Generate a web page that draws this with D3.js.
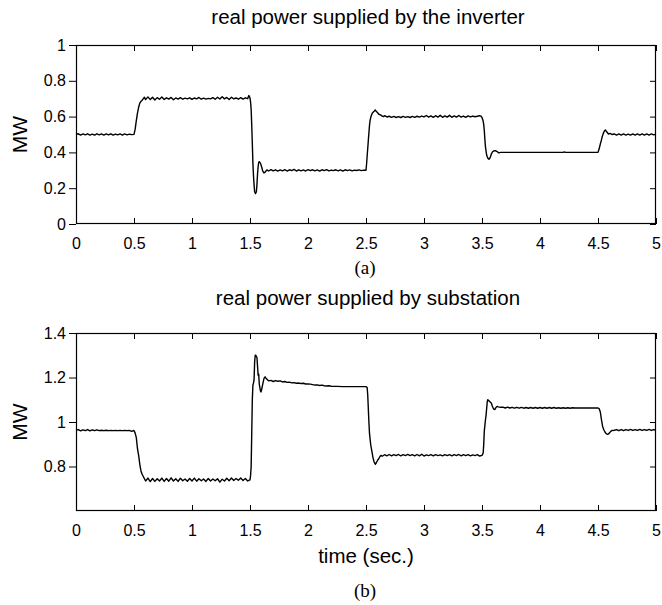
<!DOCTYPE html>
<html>
<head>
<meta charset="utf-8">
<script src="https://cdn.jsdelivr.net/npm/d3@7"></script>
<style>
  html, body { margin: 0; padding: 0; background: #fff; }
  svg text { font-family: "Liberation Sans", Arial, Helvetica, sans-serif; fill: #000; }
  svg text.cap { font-family: "Liberation Serif", "Times New Roman", serif; }
</style>
</head>
<body>
<svg id="chart" width="662" height="605"></svg>
<script>
// ---------- data ----------
const xTicks = [0, 0.5, 1, 1.5, 2, 2.5, 3, 3.5, 4, 4.5, 5];
const xTickLabels = ["0", "0.5", "1", "1.5", "2", "2.5", "3", "3.5", "4", "4.5", "5"];
const yTicksInverter = [0, 0.2, 0.4, 0.6, 0.8, 1];
const yTickLabelsInverter = ["0", "0.2", "0.4", "0.6", "0.8", "1"];
const yTicksSubstation = [0.8, 1, 1.2, 1.4];
const yTickLabelsSubstation = ["0.8", "1", "1.2", "1.4"];

const titleInverter = "real power supplied by the inverter";
const titleSubstation = "real power supplied by substation";

// real power supplied by the inverter [time (s), MW]
const inverterData = [
  [0,0.500],[0.02,0.504],[0.04,0.497],[0.06,0.503],[0.08,0.498],[0.10,0.504],[0.12,0.497],[0.14,0.502],[0.16,0.497],[0.18,0.504],
  [0.20,0.498],[0.22,0.503],[0.24,0.497],[0.26,0.503],[0.28,0.498],[0.30,0.504],[0.32,0.497],[0.34,0.502],[0.36,0.498],[0.38,0.503],
  [0.40,0.497],[0.42,0.503],[0.44,0.498],[0.46,0.502],[0.48,0.499],[0.50,0.501],
  [0.51,0.53],[0.52,0.578],[0.53,0.62],[0.54,0.652],[0.55,0.675],[0.56,0.685],[0.57,0.69],[0.58,0.70],[0.59,0.708],
  [0.60,0.695],[0.62,0.710],[0.64,0.695],[0.66,0.708],[0.68,0.693],[0.70,0.706],[0.72,0.697],[0.74,0.709],[0.76,0.696],[0.78,0.705],
  [0.80,0.698],[0.82,0.707],[0.84,0.694],[0.86,0.704],[0.88,0.698],[0.90,0.706],[0.92,0.697],[0.94,0.703],[0.96,0.699],[0.98,0.705],
  [1.00,0.696],[1.02,0.704],[1.04,0.699],[1.06,0.707],[1.08,0.697],[1.10,0.703],[1.12,0.698],[1.14,0.702],[1.16,0.699],[1.18,0.706],
  [1.20,0.697],[1.22,0.708],[1.24,0.698],[1.26,0.711],[1.28,0.699],[1.30,0.707],[1.32,0.696],[1.34,0.708],[1.36,0.699],[1.38,0.704],
  [1.40,0.697],[1.42,0.706],[1.44,0.698],[1.46,0.705],[1.48,0.700],
  [1.49,0.718],[1.50,0.705],[1.505,0.68],[1.51,0.64],[1.515,0.55],[1.52,0.45],[1.525,0.34],[1.53,0.27],[1.535,0.22],[1.54,0.18],
  [1.548,0.17],[1.555,0.18],[1.56,0.22],[1.565,0.28],[1.57,0.32],[1.575,0.345],[1.58,0.348],[1.59,0.34],[1.60,0.32],[1.61,0.295],
  [1.62,0.285],[1.63,0.29],[1.645,0.302],
  [1.66,0.296],[1.68,0.304],[1.70,0.297],[1.72,0.303],[1.74,0.296],[1.76,0.302],[1.78,0.297],[1.80,0.304],[1.82,0.296],[1.84,0.303],
  [1.86,0.298],[1.88,0.305],[1.90,0.296],[1.92,0.303],[1.94,0.297],[1.96,0.302],[1.98,0.296],[2.00,0.304],[2.02,0.298],[2.04,0.303],
  [2.06,0.297],[2.08,0.302],[2.10,0.296],[2.12,0.303],[2.14,0.298],[2.16,0.304],[2.18,0.297],[2.20,0.301],[2.22,0.298],[2.24,0.303],
  [2.26,0.297],[2.28,0.302],[2.30,0.296],[2.32,0.303],[2.34,0.298],[2.36,0.302],[2.38,0.297],[2.40,0.301],[2.42,0.299],[2.44,0.302],
  [2.46,0.298],[2.48,0.301],[2.50,0.300],
  [2.505,0.335],[2.51,0.38],[2.52,0.466],[2.53,0.55],[2.535,0.578],[2.545,0.605],[2.555,0.62],[2.57,0.63],[2.58,0.637],[2.59,0.628],
  [2.60,0.622],[2.61,0.613],[2.625,0.61],[2.64,0.603],[2.65,0.600],
  [2.66,0.605],[2.68,0.598],[2.70,0.602],[2.72,0.596],[2.74,0.601],[2.76,0.595],[2.78,0.600],[2.80,0.595],[2.82,0.601],[2.84,0.596],
  [2.86,0.600],[2.88,0.595],[2.90,0.601],[2.92,0.596],[2.94,0.602],[2.96,0.597],[2.98,0.603],[3.00,0.598],[3.02,0.606],[3.04,0.597],
  [3.06,0.604],[3.08,0.596],[3.10,0.605],[3.12,0.597],[3.14,0.607],[3.16,0.596],[3.18,0.604],[3.20,0.597],[3.22,0.607],[3.24,0.596],
  [3.26,0.604],[3.28,0.597],[3.30,0.606],[3.32,0.597],[3.34,0.603],[3.36,0.596],[3.38,0.604],[3.40,0.598],[3.42,0.603],[3.44,0.599],
  [3.46,0.602],[3.48,0.605],
  [3.49,0.603],[3.50,0.595],[3.51,0.575],[3.515,0.555],[3.52,0.52],[3.525,0.47],[3.53,0.43],[3.54,0.385],[3.55,0.368],[3.56,0.362],
  [3.57,0.37],[3.58,0.39],[3.59,0.402],[3.60,0.408],[3.615,0.41],[3.63,0.405],[3.645,0.397],[3.66,0.400],
  [3.7,0.400],[3.8,0.400],[3.9,0.400],[4.0,0.400],[4.1,0.400],[4.2,0.400],[4.21,0.403],[4.22,0.400],[4.3,0.400],[4.4,0.400],[4.5,0.400],
  [4.51,0.42],[4.52,0.447],[4.53,0.47],[4.535,0.485],[4.545,0.505],[4.555,0.52],[4.565,0.525],[4.575,0.515],[4.59,0.503],[4.605,0.506],
  [4.62,0.500],
  [4.64,0.503],[4.66,0.497],[4.68,0.503],[4.70,0.497],[4.72,0.503],[4.74,0.497],[4.76,0.502],[4.78,0.497],[4.80,0.503],[4.82,0.497],
  [4.84,0.503],[4.86,0.497],[4.88,0.503],[4.90,0.497],[4.92,0.503],[4.94,0.497],[4.96,0.503],[4.98,0.498],[5.00,0.502]
];

// real power supplied by substation [time (s), MW]
const substationData = [
  [0,0.962],[0.02,0.966],[0.04,0.960],[0.06,0.965],[0.08,0.961],[0.10,0.966],[0.12,0.960],[0.14,0.965],[0.16,0.961],[0.18,0.965],
  [0.20,0.961],[0.22,0.963],[0.24,0.961],[0.26,0.963],[0.28,0.961],[0.30,0.962],[0.32,0.961],[0.34,0.962],[0.36,0.961],[0.38,0.962],
  [0.40,0.961],[0.42,0.962],[0.44,0.961],[0.46,0.962],[0.48,0.958],[0.50,0.962],
  [0.51,0.95],[0.52,0.93],[0.53,0.88],[0.54,0.85],[0.55,0.81],[0.56,0.78],[0.57,0.765],[0.58,0.755],[0.59,0.745],[0.60,0.735],
  [0.62,0.748],[0.64,0.732],[0.66,0.746],[0.68,0.733],[0.70,0.745],[0.72,0.735],[0.74,0.748],[0.76,0.733],[0.78,0.746],[0.80,0.734],
  [0.82,0.749],[0.84,0.735],[0.86,0.745],[0.88,0.733],[0.90,0.747],[0.92,0.736],[0.94,0.744],[0.96,0.734],[0.98,0.746],[1.00,0.735],
  [1.02,0.748],[1.04,0.734],[1.06,0.745],[1.08,0.736],[1.10,0.744],[1.12,0.733],[1.14,0.746],[1.16,0.735],[1.18,0.744],[1.20,0.736],
  [1.22,0.745],[1.24,0.730],[1.26,0.743],[1.28,0.735],[1.30,0.747],[1.32,0.736],[1.34,0.748],[1.36,0.737],[1.38,0.746],[1.40,0.738],
  [1.42,0.748],[1.44,0.737],[1.46,0.746],[1.48,0.735],[1.50,0.740],
  [1.505,0.76],[1.51,0.80],[1.515,0.95],[1.52,1.10],[1.525,1.165],[1.53,1.175],[1.535,1.19],[1.54,1.27],[1.545,1.30],[1.55,1.30],
  [1.56,1.29],[1.565,1.25],[1.57,1.21],[1.575,1.215],[1.58,1.17],[1.59,1.14],[1.595,1.135],[1.60,1.145],[1.61,1.17],[1.62,1.195],
  [1.63,1.203],[1.64,1.195],[1.65,1.19],[1.66,1.185],[1.68,1.187],[1.70,1.182],[1.72,1.186],[1.74,1.183],[1.76,1.185],[1.78,1.180],
  [1.80,1.182],[1.82,1.178],[1.84,1.179],[1.86,1.176],[1.88,1.177],[1.90,1.174],[1.92,1.175],[1.94,1.173],[1.96,1.174],[1.98,1.171],
  [2.00,1.171],[2.02,1.170],[2.04,1.168],[2.06,1.166],[2.08,1.167],[2.10,1.164],[2.12,1.166],[2.14,1.163],[2.16,1.162],[2.18,1.163],
  [2.20,1.161],[2.25,1.160],[2.30,1.159],[2.35,1.159],[2.40,1.159],[2.45,1.159],[2.50,1.159],
  [2.51,1.155],[2.515,1.12],[2.52,1.06],[2.525,1.00],[2.53,0.95],[2.54,0.90],[2.55,0.87],[2.56,0.84],[2.57,0.82],[2.58,0.81],
  [2.59,0.818],[2.60,0.828],[2.61,0.835],[2.62,0.845],[2.63,0.850],[2.64,0.846],
  [2.66,0.853],[2.68,0.848],[2.70,0.854],[2.72,0.848],[2.74,0.853],[2.76,0.849],[2.78,0.854],[2.80,0.848],[2.82,0.853],[2.84,0.849],
  [2.86,0.854],[2.88,0.849],[2.90,0.853],[2.92,0.848],[2.94,0.854],[2.96,0.848],[2.98,0.855],[3.00,0.847],[3.02,0.852],[3.04,0.849],
  [3.06,0.853],[3.08,0.848],[3.10,0.853],[3.12,0.849],[3.14,0.852],[3.16,0.848],[3.18,0.853],[3.20,0.849],[3.22,0.853],[3.24,0.848],
  [3.26,0.853],[3.28,0.849],[3.30,0.854],[3.32,0.848],[3.34,0.853],[3.36,0.849],[3.38,0.853],[3.40,0.848],[3.42,0.852],[3.44,0.849],
  [3.46,0.853],[3.48,0.847],[3.50,0.850],
  [3.51,0.86],[3.515,0.90],[3.52,0.96],[3.53,1.01],[3.535,1.03],[3.54,1.06],[3.545,1.09],[3.55,1.10],[3.56,1.095],[3.57,1.09],
  [3.58,1.085],[3.59,1.07],[3.60,1.058],[3.61,1.056],[3.62,1.065],[3.63,1.07],[3.64,1.068],[3.66,1.066],
  [3.68,1.067],[3.70,1.063],[3.72,1.067],[3.74,1.063],[3.76,1.066],[3.78,1.062],[3.80,1.066],[3.82,1.062],[3.84,1.066],[3.86,1.062],
  [3.88,1.065],[3.90,1.062],[3.92,1.065],[3.94,1.062],[3.96,1.065],[3.98,1.062],[4.00,1.065],[4.02,1.062],[4.04,1.065],[4.06,1.062],
  [4.08,1.065],[4.10,1.062],[4.12,1.065],[4.14,1.062],[4.16,1.064],[4.18,1.062],[4.20,1.064],[4.22,1.062],[4.24,1.064],[4.26,1.062],
  [4.28,1.064],[4.30,1.063],[4.35,1.063],[4.40,1.063],[4.45,1.063],[4.50,1.063],
  [4.51,1.06],[4.52,1.045],[4.53,1.01],[4.54,0.98],[4.55,0.965],[4.56,0.955],[4.57,0.948],[4.58,0.945],[4.59,0.946],[4.60,0.952],
  [4.61,0.958],[4.62,0.962],[4.64,0.963],
  [4.66,0.966],[4.68,0.961],[4.70,0.966],[4.72,0.961],[4.74,0.966],[4.76,0.962],[4.78,0.967],[4.80,0.962],[4.82,0.966],[4.84,0.962],
  [4.86,0.967],[4.88,0.962],[4.90,0.966],[4.92,0.962],[4.94,0.967],[4.96,0.962],[4.98,0.966],[5.00,0.963]
];

// ---------- drawing ----------
const svg = d3.select("#chart");
const W = 662;
const left = 76, right = 656;

function panel(cfg) {
  const x = d3.scaleLinear().domain([0, 5]).range([left, right]);
  const y = d3.scaleLinear().domain(cfg.yDomain).range([cfg.bottom, cfg.top]);
  const g = svg.append("g");

  // title
  g.append("text")
    .attr("x", (left + right) / 2 + 2).attr("y", cfg.titleY)
    .attr("text-anchor", "middle").attr("font-size", 20.5)
    .text(cfg.title);

  // data line
  const line = d3.line().x(d => x(d[0])).y(d => y(d[1]));
  g.append("path").datum(cfg.data)
    .attr("fill", "none").attr("stroke", "#000")
    .attr("stroke-width", 1.4).attr("stroke-linejoin", "round")
    .attr("d", line);

  // bottom axis (ticks inward)
  const ax = d3.axisBottom(x).tickValues(xTicks)
    .tickFormat((d, i) => xTickLabels[i]).tickSizeInner(-6).tickSizeOuter(0).tickPadding(14);
  const gx = g.append("g").attr("transform", `translate(0,${cfg.bottom})`).call(ax);
  gx.select(".domain").remove();
  gx.selectAll("text").attr("font-size", 16).attr("font-family", null);
  gx.selectAll("line").attr("stroke", "#000");

  // top axis (ticks inward, no labels)
  const axT = d3.axisTop(x).tickValues(xTicks).tickFormat("").tickSizeInner(-6).tickSizeOuter(0);
  const gt = g.append("g").attr("transform", `translate(0,${cfg.top})`).call(axT);
  gt.select(".domain").remove();
  gt.selectAll("line").attr("stroke", "#000");

  // left axis (ticks outward)
  const ay = d3.axisLeft(y).tickValues(cfg.yTicks)
    .tickFormat((d, i) => cfg.yLabels[i]).tickSizeInner(7).tickSizeOuter(0).tickPadding(3);
  const gy = g.append("g").attr("transform", `translate(${left},0)`).call(ay);
  gy.select(".domain").remove();
  gy.selectAll("text").attr("font-size", 16).attr("font-family", null);
  gy.selectAll("line").attr("stroke", "#000");

  // right axis (ticks inward)
  const ayR = d3.axisRight(y).tickValues(cfg.yTicks).tickFormat("").tickSizeInner(-6).tickSizeOuter(0);
  const gr = g.append("g").attr("transform", `translate(${right},0)`).call(ayR);
  gr.select(".domain").remove();
  gr.selectAll("line").attr("stroke", "#000");

  // frame
  g.append("rect")
    .attr("x", left + 0.5).attr("y", cfg.top + 0.5)
    .attr("width", right - left - 1).attr("height", cfg.bottom - cfg.top - 1)
    .attr("fill", "none").attr("stroke", "#000").attr("stroke-width", 1.2);

  // y label
  g.append("text")
    .attr("transform", `translate(${cfg.ylabX},${(cfg.top + cfg.bottom) / 2}) rotate(-90)`)
    .attr("text-anchor", "middle").attr("font-size", 21)
    .text("MW");

  if (cfg.xlabel) {
    g.append("text")
      .attr("x", (left + right) / 2).attr("y", cfg.xlabelY)
      .attr("text-anchor", "middle").attr("font-size", 20.5)
      .text(cfg.xlabel);
  }

  g.append("text").attr("class", "cap")
    .attr("x", (left + right) / 2 - 1).attr("y", cfg.capY)
    .attr("text-anchor", "middle").attr("font-size", 19)
    .text(cfg.caption);
}

panel({
  top: 45, bottom: 224, yDomain: [0, 1], yTicks: yTicksInverter, yLabels: yTickLabelsInverter,
  data: inverterData, title: titleInverter, titleY: 24, ylabX: 27, caption: "(a)", capY: 274
});

panel({
  top: 333, bottom: 511, yDomain: [0.6, 1.4], yTicks: yTicksSubstation, yLabels: yTickLabelsSubstation,
  data: substationData, title: titleSubstation, titleY: 305, ylabX: 27,
  xlabel: "time (sec.)", xlabelY: 563, caption: "(b)", capY: 597
});
</script>
</body>
</html>
